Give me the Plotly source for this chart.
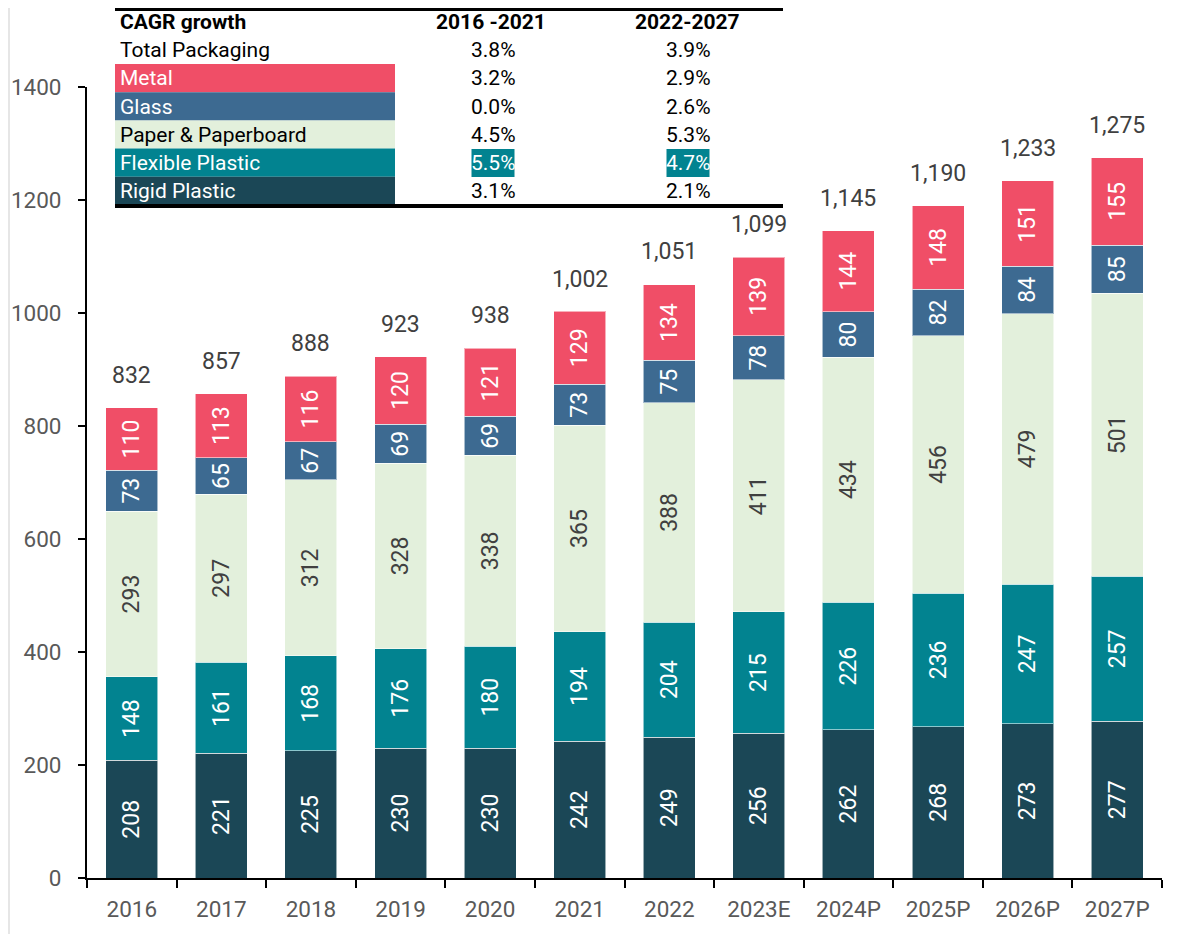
import plotly.graph_objects as go

years = ["2016", "2017", "2018", "2019", "2020", "2021", "2022", "2023E", "2024P", "2025P", "2026P", "2027P"]
rigid = [208, 221, 225, 230, 230, 242, 249, 256, 262, 268, 273, 277]
flexible = [148, 161, 168, 176, 180, 194, 204, 215, 226, 236, 247, 257]
paper = [293, 297, 312, 328, 338, 365, 388, 411, 434, 456, 479, 501]
glass = [73, 65, 67, 69, 69, 73, 75, 78, 80, 82, 84, 85]
metal = [110, 113, 116, 120, 121, 129, 134, 139, 144, 148, 151, 155]
totals = [832, 857, 888, 923, 938, 1002, 1051, 1099, 1145, 1190, 1233, 1275]

table_header = ["CAGR growth", "2016 -2021", "2022-2027"]
table_rows = ["Total Packaging", "Metal", "Glass", "Paper & Paperboard", "Flexible Plastic", "Rigid Plastic"]
cagr_1621 = ["3.8%", "3.2%", "0.0%", "4.5%", "5.5%", "3.1%"]
cagr_2227 = ["3.9%", "2.9%", "2.6%", "5.3%", "4.7%", "2.1%"]

C_METAL = "#F04E67"
C_GLASS = "#3D6A91"
C_PAPER = "#E3F0DC"
C_FLEX = "#028390"
C_RIGID = "#1B4756"
row_bg = [None, C_METAL, C_GLASS, C_PAPER, C_FLEX, C_RIGID]
row_fg = ["#000000", "#FFFFFF", "#FFFFFF", "#000000", "#FFFFFF", "#FFFFFF"]

FONT = "Roboto"
TICK_SIZE = 22.5
LABEL_SIZE = 23
TOTAL_SIZE = 23
TABLE_SIZE = 21

OFF = 8  # page body margin
W, H = 1198 - 2 * OFF, 942 - 2 * OFF
# plot area in screen pixels
SX0, SX1, SY0, SY1 = 87, 1162, 87, 878
L, T = SX0 - OFF, SY0 - OFF
R = W - (SX1 - OFF)
B = H - (SY1 - OFF)
PW, PH = SX1 - SX0, SY1 - SY0


def px(x):
    return (x - SX0) / PW


def py(y):
    return (SY1 - y) / PH


series = [
    ("Rigid Plastic", rigid, C_RIGID, "#FFFFFF"),
    ("Flexible Plastic", flexible, C_FLEX, "#FFFFFF"),
    ("Paper & Paperboard", paper, C_PAPER, "#404040"),
    ("Glass", glass, C_GLASS, "#FFFFFF"),
    ("Metal", metal, C_METAL, "#FFFFFF"),
]

idx = list(range(len(years)))

fig = go.Figure()
for name, vals, col, tcol in series:
    fig.add_trace(go.Bar(
        x=idx, y=vals, name=name,
        marker=dict(color=col, line=dict(color="rgba(255,255,255,0.55)", width=1)),
        text=[str(v) for v in vals], textposition="inside", insidetextanchor="middle",
        textangle=-90, textfont=dict(family=FONT, size=LABEL_SIZE, color=tcol),
        constraintext="none", cliponaxis=False,
    ))

annotations = []
for i, tot in zip(idx, totals):
    annotations.append(dict(x=i, y=tot, xref="x", yref="y", text=f"{tot:,}",
                            showarrow=False, yanchor="bottom", yshift=17,
                            font=dict(family=FONT, size=TOTAL_SIZE, color="#404040")))

shapes = []
# frame line on left
shapes.append(dict(type="line", xref="paper", yref="paper", x0=px(OFF + 1), x1=px(OFF + 1), y0=py(OFF), y1=py(942),
                   line=dict(color="#E6E6E6", width=2)))
# table lines
shapes.append(dict(type="line", xref="paper", yref="paper", x0=px(115), x1=px(783), y0=py(OFF + 1.5), y1=py(OFF + 1.5),
                   line=dict(color="#000000", width=3)))
shapes.append(dict(type="line", xref="paper", yref="paper", x0=px(115), x1=px(783), y0=py(206), y1=py(206),
                   line=dict(color="#000000", width=4)))

row_centers = [50, 78, 107, 135, 163, 191]
row_top = 64
row_h = 28.2
for i, (lab, a, b) in enumerate(zip(table_rows, cagr_1621, cagr_2227)):
    yc = row_centers[i]
    if row_bg[i]:
        y0 = row_top + (i - 1) * row_h
        shapes.append(dict(type="rect", xref="paper", yref="paper", x0=px(115), x1=px(395),
                           y0=py(y0 + row_h), y1=py(y0), fillcolor=row_bg[i], line=dict(width=0), layer="below"))
    annotations.append(dict(x=px(118), y=py(yc), xref="paper", yref="paper", text=lab, showarrow=False,
                            xanchor="left", yanchor="middle", font=dict(family=FONT, size=TABLE_SIZE, color=row_fg[i])))
    hi = lab == "Flexible Plastic"
    for xc, val in ((493, a), (688, b)):
        if hi:
            shapes.append(dict(type="rect", xref="paper", yref="paper", x0=px(xc - 21.5), x1=px(xc + 21.5),
                               y0=py(177), y1=py(149), fillcolor=C_FLEX, line=dict(width=0), layer="below"))
        annotations.append(dict(x=px(xc), y=py(yc), xref="paper", yref="paper", text=val, showarrow=False,
                                xanchor="center", yanchor="middle",
                                font=dict(family=FONT, size=TABLE_SIZE, color="#FFFFFF" if hi else "#000000")))

for txt, xc, anc in ((table_header[0], 118, "left"), (table_header[1], 491, "center"), (table_header[2], 687, "center")):
    annotations.append(dict(x=px(xc), y=py(22), xref="paper", yref="paper", text=f"<b>{txt}</b>",
                            showarrow=False, xanchor=anc, yanchor="middle",
                            font=dict(family=FONT, size=TABLE_SIZE, color="#000000")))

# boundary ticks between categories
tick_pos = [i - 0.5 for i in range(len(years) + 1)]

fig.update_layout(
    width=W, height=H,
    margin=dict(l=L, r=R, t=T, b=B, autoexpand=False),
    barmode="stack", bargap=0.42,
    plot_bgcolor="#FFFFFF", paper_bgcolor="#FFFFFF",
    showlegend=False,
    font=dict(family=FONT),
    annotations=annotations, shapes=shapes,
    xaxis=dict(type="linear", range=[-0.5, len(years) - 0.5], showline=True, linecolor="#000000", linewidth=2,
               tickmode="array", tickvals=idx, ticktext=years, ticks="", ticklabelstandoff=10,
               minor=dict(tickmode="array", tickvals=tick_pos, ticks="outside", ticklen=8, tickwidth=2,
                          tickcolor="#000000", showgrid=False),
               tickfont=dict(family=FONT, size=TICK_SIZE, color="#595959"), showgrid=False, zeroline=False),
    yaxis=dict(range=[0, 1400], tickvals=[0, 200, 400, 600, 800, 1000, 1200, 1400],
               showline=True, linecolor="#000000", linewidth=2, ticks="outside", ticklen=7,
               tickwidth=2, tickcolor="#000000", showgrid=False, zeroline=False, ticklabelstandoff=12,
               tickfont=dict(family=FONT, size=TICK_SIZE, color="#595959")),
)

fig.write_html("out.html")
